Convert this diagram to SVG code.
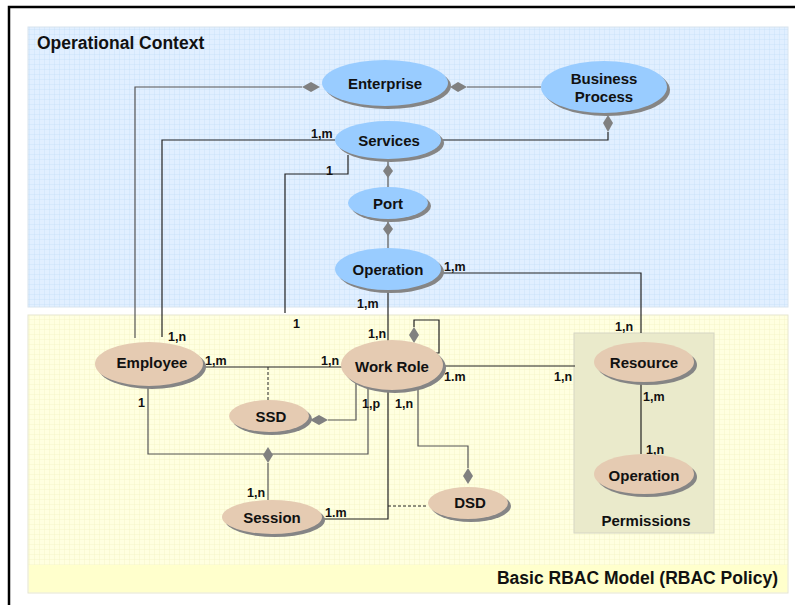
<svg xmlns="http://www.w3.org/2000/svg" width="795" height="605" viewBox="0 0 795 605">
<defs>
<pattern id="gridB" width="5" height="5" patternUnits="userSpaceOnUse"><path d="M5 0V5H0" fill="none" stroke="#c4dcf7" stroke-width="0.7"/></pattern>
<pattern id="gridY" width="5" height="5" patternUnits="userSpaceOnUse"><path d="M5 0V5H0" fill="none" stroke="#f0f0c0" stroke-width="0.7"/></pattern>
<style>
text{font-family:"Liberation Sans",Arial,sans-serif;font-weight:bold;fill:#111}
.title{font-size:17.5px}
.nl{font-size:15px;text-anchor:middle}
.cl{font-size:12.5px}
.sh{fill:#858585}
.blue{fill:#99ccff}
.tan{fill:#e5cbb2}
.ln{fill:none;stroke:#222;stroke-width:1.2}
.gl{fill:none;stroke:#555;stroke-width:1.2}
.ds{fill:none;stroke:#222;stroke-width:1;stroke-dasharray:3,2}
.dm{fill:#808080}
</style>
</defs>
<rect width="795" height="605" fill="#fff"/>
<path d="M9 605V7H795" fill="none" stroke="#000" stroke-width="2.5"/>
<g id="operational-context">
<rect x="28" y="27" width="760" height="280" fill="#e1efff" stroke="#d8e4ee"/>
<rect x="28" y="27" width="760" height="280" fill="url(#gridB)"/>
<text class="title" x="37" y="49">Operational Context</text>
</g>
<g id="rbac-model">
<rect x="28" y="315" width="760" height="278" fill="#ffffe0" stroke="#e6e6d0"/>
<rect x="28" y="315" width="760" height="250" fill="url(#gridY)"/>
<rect x="29" y="565" width="758" height="27" fill="#ffffcc"/>
<text class="title" x="778" y="584" text-anchor="end">Basic RBAC Model (RBAC Policy)</text>
</g>
<g id="permissions">
<rect x="574" y="333" width="140" height="200" fill="#eaeacb" stroke="#d6d6c4"/>
<text class="nl" x="646" y="526">Permissions</text>
</g>
<g id="connectors">
<path class="gl" d="M302 87H135V338"/>
<polygon class="dm" points="302,87 311,82 320,87 311,92"/>
<path class="gl" d="M467 87H541"/>
<polygon class="dm" points="450,87 458,82 467,87 458,92"/>
<path class="ln" d="M335 140H162V337"/>
<path class="ln" d="M443 140H608V132"/>
<polygon class="dm" points="608,115 613,123 608,132 603,123"/>
<path class="ln" d="M348 155V174H285V313"/>
<path class="gl" d="M388 160V187"/>
<polygon class="dm" points="388,164 393,171 388,178 383,171"/>
<path class="gl" d="M388 219V248"/>
<polygon class="dm" points="388,222 393,229 388,236 383,229"/>
<path class="ln" d="M443 273H641V333"/>
<path class="ln" d="M388 291V341"/>
<path class="ln" d="M414 327V320H439V353H435"/>
<polygon class="dm" points="414,327 419,335 414,343 409,335"/>
<path class="ln" d="M203 367H342"/>
<path class="ds" d="M268 367V400"/>
<path class="gl" d="M328 420H356V383"/>
<polygon class="dm" points="310,420 319,415 328,420 319,425"/>
<path class="gl" d="M148 387V454H368V389"/>
<path class="gl" d="M268 463V500"/>
<polygon class="dm" points="268,447 273,455 268,463 263,455"/>
<path class="ln" d="M323 519H388V389"/>
<path class="ds" d="M388 506H428"/>
<path class="gl" d="M418 388V446H468V468"/>
<polygon class="dm" points="468,468 473,476 468,484 463,476"/>
<path class="ln" d="M443 366H575"/>
<path class="ln" d="M641 383V454"/>
</g>
<g id="labels">
<text class="cl" x="311" y="138">1,m</text>
<text class="cl" x="326" y="175">1</text>
<text class="cl" x="293" y="328">1</text>
<text class="cl" x="168" y="341">1,n</text>
<text class="cl" x="444" y="271">1,m</text>
<text class="cl" x="615" y="331">1,n</text>
<text class="cl" x="357" y="308">1,m</text>
<text class="cl" x="368" y="338">1,n</text>
<text class="cl" x="205" y="365">1,m</text>
<text class="cl" x="321" y="365">1,n</text>
<text class="cl" x="444" y="381">1.m</text>
<text class="cl" x="554" y="381">1,n</text>
<text class="cl" x="138" y="407">1</text>
<text class="cl" x="362" y="408">1,p</text>
<text class="cl" x="395" y="408">1,n</text>
<text class="cl" x="247" y="497">1,n</text>
<text class="cl" x="325" y="517">1.m</text>
<text class="cl" x="643" y="401">1,m</text>
<text class="cl" x="646" y="454">1,n</text>
</g>
<g id="enterprise"><ellipse class="sh" cx="388" cy="86" rx="63" ry="23"/><ellipse class="blue" cx="385" cy="83" rx="63" ry="23"/><text class="nl" x="385" y="89">Enterprise</text></g>
<g id="business-process"><ellipse class="sh" cx="607" cy="90" rx="63" ry="26"/><ellipse class="blue" cx="604" cy="87" rx="63" ry="26"/><text class="nl" x="604" y="84">Business</text><text class="nl" x="604" y="102">Process</text></g>
<g id="services"><ellipse class="sh" cx="391" cy="143" rx="53" ry="19"/><ellipse class="blue" cx="388" cy="140" rx="53" ry="19"/><text class="nl" x="389" y="146">Services</text></g>
<g id="port"><ellipse class="sh" cx="391" cy="206" rx="40" ry="16"/><ellipse class="blue" cx="388" cy="203" rx="40" ry="16"/><text class="nl" x="388" y="209">Port</text></g>
<g id="operation-ctx"><ellipse class="sh" cx="391" cy="272" rx="53" ry="21"/><ellipse class="blue" cx="388" cy="269" rx="53" ry="21"/><text class="nl" x="388" y="275">Operation</text></g>
<g id="employee"><ellipse class="sh" cx="152" cy="367" rx="54" ry="22"/><ellipse class="tan" cx="149" cy="364" rx="54" ry="22"/><text class="nl" x="152" y="368">Employee</text></g>
<g id="work-role"><ellipse class="sh" cx="395" cy="368" rx="51" ry="25"/><ellipse class="tan" cx="392" cy="365" rx="51" ry="25"/><text class="nl" x="392" y="372">Work Role</text></g>
<g id="ssd"><ellipse class="sh" cx="272" cy="419" rx="40" ry="16"/><ellipse class="tan" cx="269" cy="416" rx="40" ry="16"/><text class="nl" x="271" y="422">SSD</text></g>
<g id="session"><ellipse class="sh" cx="275" cy="520" rx="50" ry="17"/><ellipse class="tan" cx="272" cy="517" rx="50" ry="17"/><text class="nl" x="272" y="523">Session</text></g>
<g id="dsd"><ellipse class="sh" cx="471" cy="506" rx="40" ry="16"/><ellipse class="tan" cx="468" cy="503" rx="40" ry="16"/><text class="nl" x="470" y="508">DSD</text></g>
<g id="resource"><ellipse class="sh" cx="647" cy="365" rx="50" ry="20"/><ellipse class="tan" cx="644" cy="362" rx="50" ry="20"/><text class="nl" x="644" y="368">Resource</text></g>
<g id="operation-perm"><ellipse class="sh" cx="647" cy="477" rx="50" ry="20"/><ellipse class="tan" cx="644" cy="474" rx="50" ry="20"/><text class="nl" x="644" y="481">Operation</text></g>
</svg>
